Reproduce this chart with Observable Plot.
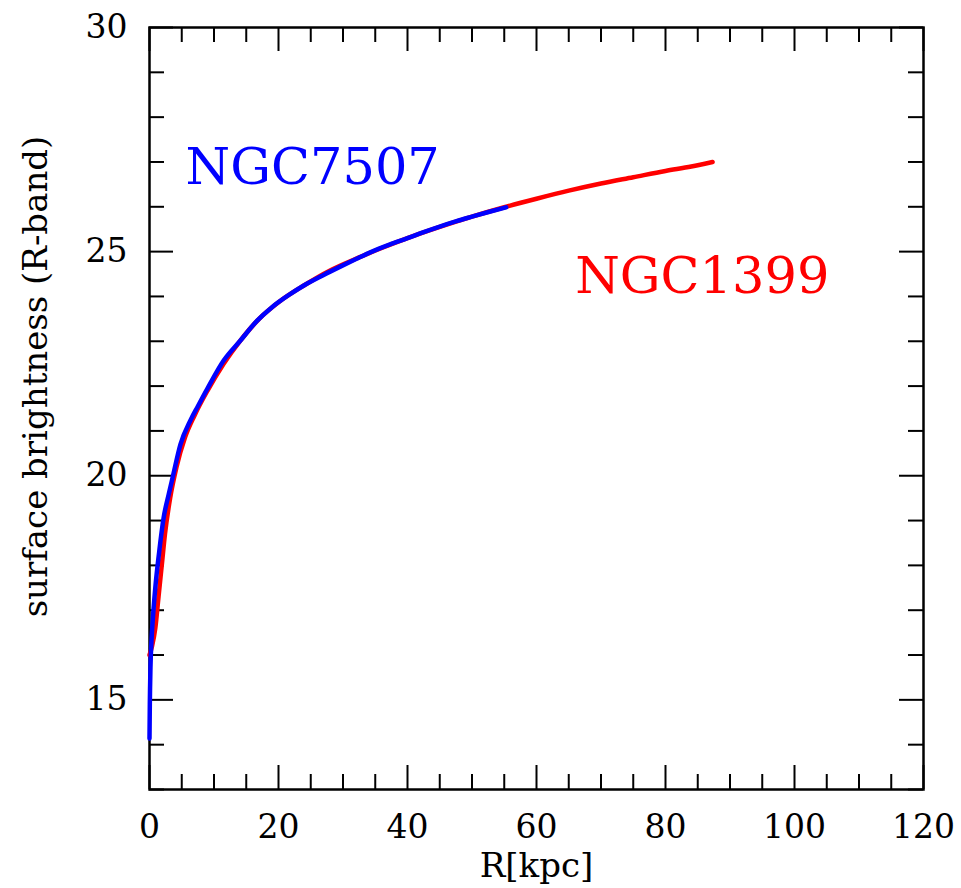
<!DOCTYPE html>
<html>
<head>
<meta charset="utf-8">
<script src="https://cdn.jsdelivr.net/npm/d3@7"></script>
<script src="https://cdn.jsdelivr.net/npm/@observablehq/plot@0.6"></script>
<style>
  html, body { margin: 0; padding: 0; background: #ffffff; }
</style>
</head>
<body>
<div id="chart"></div>
<script>
// NGC7507 profile (blue)
const ngc7507R  = [0, 0.05, 0.15, 0.3, 0.5, 0.9, 1.5, 2.2, 3.0, 3.6, 4.8, 6.4, 7.5, 9, 11.5, 14, 16.7, 19, 21.8, 24, 27, 29.5, 32.1, 34.5, 37.3, 40, 42.4, 45, 47.6, 50, 52.7, 55.3];
const ngc7507Mu = [14.14, 14.9, 15.72, 16.3, 16.77, 17.5, 18.3, 19.07, 19.6, 19.97, 20.7, 21.25, 21.55, 21.95, 22.57, 23.0, 23.46, 23.76, 24.05, 24.25, 24.48, 24.66, 24.84, 25.0, 25.16, 25.3, 25.43, 25.56, 25.68, 25.78, 25.89, 25.99];

// NGC1399 profile (red)
const ngc1399R  = [0, 0.4, 0.9, 1.4, 1.9, 2.4, 3.2, 4.2, 5.5, 7, 9, 11.5, 14, 17, 20, 24, 28, 32, 36, 40, 45, 50, 55, 60, 65, 70, 75, 80, 84, 87.3];
const ngc1399Mu = [16.0, 16.2, 16.6, 17.3, 18.0, 18.7, 19.5, 20.2, 20.85, 21.35, 21.9, 22.5, 23.0, 23.5, 23.87, 24.25, 24.58, 24.84, 25.08, 25.3, 25.55, 25.78, 25.99, 26.18, 26.36, 26.52, 26.66, 26.8, 26.9, 27.0];

// Tick values and labels
const xMajor = [0, 20, 40, 60, 80, 100, 120];
const xMinor = d3.range(0, 121, 5).filter(v => v % 20 !== 0);
const yMajor = [15, 20, 25, 30];
const yMinor = d3.range(13, 31, 1).filter(v => v % 5 !== 0);

// Series name labels (anchor in data units)
const seriesNames = ["NGC7507", "NGC1399"];
const seriesLabelR = [5.6, 66.0];
const seriesLabelMu = [26.87, 24.44];
const seriesColors = ["#0000ff", "#ff0000"];

const xTitle = "R[kpc]";
const yTitle = "surface brightness (R-band)";

const blue = ngc7507R.map((r, i) => ({r, mu: ngc7507Mu[i]}));
const red = ngc1399R.map((r, i) => ({r, mu: ngc1399Mu[i]}));
const labels = seriesNames.map((name, i) => ({name, r: seriesLabelR[i], mu: seriesLabelMu[i], color: seriesColors[i]}));

const W = 961, H = 888;
const mt = 27, mb = 99, ml = 149, mr = 38;
const ph = H - mt - mb, pw = W - ml - mr;
const font = "DejaVu Serif";
const minorLen = 15, majorLen = 24;

const chart = Plot.plot({
  width: W,
  height: H,
  marginTop: mt,
  marginBottom: mb,
  marginLeft: ml,
  marginRight: mr,
  style: {background: "#ffffff", fontFamily: font, color: "#000000"},
  x: {domain: [0, 120]},
  y: {domain: [13, 30]},
  marks: [
    // ticks inward on all sides
    Plot.tickX(xMinor, {x: d => d, insetTop: ph - minorLen, stroke: "#000", strokeWidth: 2}),
    Plot.tickX(xMinor, {x: d => d, insetBottom: ph - minorLen, stroke: "#000", strokeWidth: 2}),
    Plot.tickX(xMajor, {x: d => d, insetTop: ph - majorLen, stroke: "#000", strokeWidth: 2}),
    Plot.tickX(xMajor, {x: d => d, insetBottom: ph - majorLen, stroke: "#000", strokeWidth: 2}),
    Plot.tickY(yMinor, {y: d => d, insetRight: pw - minorLen, stroke: "#000", strokeWidth: 2}),
    Plot.tickY(yMinor, {y: d => d, insetLeft: pw - minorLen, stroke: "#000", strokeWidth: 2}),
    Plot.tickY(yMajor, {y: d => d, insetRight: pw - majorLen, stroke: "#000", strokeWidth: 2}),
    Plot.tickY(yMajor, {y: d => d, insetLeft: pw - majorLen, stroke: "#000", strokeWidth: 2}),
    Plot.frame({stroke: "#000", strokeWidth: 2.5}),
    Plot.axisX({ticks: xMajor, tickSize: 0, tickPadding: 25, fontSize: 33, fontFamily: font, fill: "#000", label: null}),
    Plot.axisY({ticks: yMajor, tickSize: 0, tickPadding: 22, fontSize: 33, fontFamily: font, fill: "#000", label: null}),
    // curves
    Plot.line(red, {x: "r", y: "mu", stroke: "#ff0000", strokeWidth: 4.5, curve: "monotone-x"}),
    Plot.line(blue, {x: "r", y: "mu", stroke: "#0000ff", strokeWidth: 4.5, curve: "monotone-x"}),
    // series names
    Plot.text(labels, {x: "r", y: "mu", text: "name", fill: "color", fontSize: 51, fontFamily: font, textAnchor: "start", lineAnchor: "middle"}),
    // axis titles
    Plot.text([xTitle], {frameAnchor: "bottom", text: d => d, dy: 77, fontSize: 34, fontFamily: font, fill: "#000", textAnchor: "middle", lineAnchor: "middle"}),
    Plot.text([yTitle], {frameAnchor: "left", text: d => d, dx: -113, dy: -32, rotate: -90, fontSize: 34, fontFamily: font, fill: "#000", textAnchor: "middle", lineAnchor: "middle"})
  ]
});
document.getElementById("chart").appendChild(chart);
</script>
</body>
</html>
